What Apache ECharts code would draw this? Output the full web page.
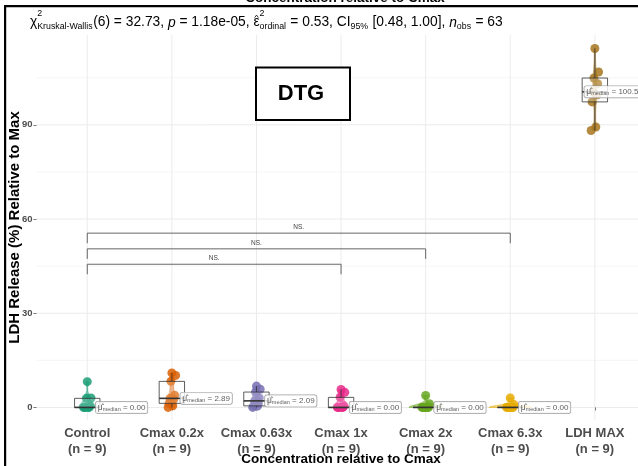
<!DOCTYPE html>
<html>
<head>
<meta charset="utf-8">
<script src="https://cdn.jsdelivr.net/npm/echarts@6/dist/echarts.min.js"></script>
<style>
  html, body { margin: 0; padding: 0; background: #fff; }
  #chart { width: 638px; height: 466px; }
</style>
</head>
<body>
<div id="chart"></div>
<script>
// Groups on the x axis and their fill colours
const categories = ['Control', 'Cmax 0.2x', 'Cmax 0.63x', 'Cmax 1x', 'Cmax 2x', 'Cmax 6.3x', 'LDH MAX'];
const colors = ['#1B9E77', '#D95F02', '#7570B3', '#E7298A', '#66A61E', '#E6AB02', '#A6761D'];

// LDH release (% of max) per replicate
const control = [0, 0, 0, 0, 0, 0.5, 2.9, 3.0, 8.2];
const cmax02  = [0.0, 0.5, 1.3, 2.6, 2.89, 3.9, 8.3, 10.2, 11.0];
const cmax063 = [0, 0.4, 0.5, 1.5, 2.09, 3.0, 4.9, 5.8, 6.8];
const cmax1   = [0, 0, 0, 0, 0, 0.5, 3.2, 4.8, 5.7];
const cmax2   = [0, 0, 0, 0, 0, 0, 0, 1.2, 3.8];
const cmax63  = [0, 0, 0, 0, 0, 0, 0, 0.9, 3.0];
const ldhMax  = [88.2, 89.3, 97.3, 99.5, 100.5, 103.1, 104.9, 106.8, 114.3];

// Y axis ticks
const yTicks = [0, 30, 60, 90];
const yMinorTicks = [15, 45, 75, 105];

// Pairwise comparisons (group indices), bracket heights and labels
const comparisons = [[0, 3], [0, 4], [0, 5]];
const bracketY = [45.6, 50.5, 55.5];
const bracketLabels = ['NS.', 'NS.', 'NS.'];

const groups = [control, cmax02, cmax063, cmax1, cmax2, cmax63, ldhMax];

// ---- statistics helpers ----
function sorted(a) { return [...a].sort((x, y) => x - y); }
function quantile(s, p) {
  const h = (s.length - 1) * p, lo = Math.floor(h);
  const hi = Math.min(lo + 1, s.length - 1);
  return s[lo] + (h - lo) * (s[hi] - s[lo]);
}
function sd(a) {
  const m = a.reduce((t, v) => t + v, 0) / a.length;
  return Math.sqrt(a.reduce((t, v) => t + (v - m) * (v - m), 0) / (a.length - 1));
}
function bwNrd0(a) {
  const s = sorted(a);
  const hi = sd(a);
  let lo = Math.min(hi, (quantile(s, 0.75) - quantile(s, 0.25)) / 1.34);
  if (!lo) lo = hi || Math.abs(s[0]) || 1;
  return 0.9 * lo * Math.pow(a.length, -0.2);
}
function boxStats(a) {
  const s = sorted(a);
  const q1 = quantile(s, 0.25), med = quantile(s, 0.5), q3 = quantile(s, 0.75);
  const iqr = q3 - q1;
  const lowW = s.filter(v => v >= q1 - 1.5 * iqr)[0];
  const inside = s.filter(v => v <= q3 + 1.5 * iqr);
  const highW = inside[inside.length - 1];
  return { q1, med, q3, lowW, highW };
}
const stats = groups.map(boxStats);

// Trimmed gaussian density per group, area-scaled across groups
const violins = groups.map(g => {
  const bw = bwNrd0(g);
  const lo = Math.min(...g), hi = Math.max(...g);
  const ys = [], ds = [];
  const n = 128;
  for (let k = 0; k <= n; k++) {
    const y = lo + (hi - lo) * k / n;
    let s = 0;
    g.forEach(x => { const z = (y - x) / bw; s += Math.exp(-0.5 * z * z); });
    ys.push(y);
    ds.push(s / (g.length * bw * Math.sqrt(2 * Math.PI)));
  }
  return { ys, ds };
});
const maxDensity = Math.max(...violins.map(v => Math.max(...v.ds)));

function withAlpha(hex, a) {
  const r = parseInt(hex.slice(1, 3), 16), g = parseInt(hex.slice(3, 5), 16), b = parseInt(hex.slice(5, 7), 16);
  return `rgba(${r},${g},${b},${a})`;
}

// small deterministic horizontal spread for overlapping points
const spread = k => (((k * 5) % 9) - 4) * 0.011;

const FONT = '"Liberation Sans", Arial, Helvetica, sans-serif';

// ---- subtitle built from measured pieces ----
const subtitlePieces = [
  { t: '\u03C7' },
  { sup: '2', sub: 'Kruskal-Wallis' },
  { t: '(6) = 32.73, ' },
  { t: 'p', it: true },
  { t: ' = 1.18e-05, ' },
  { t: '\u03B5', hat: true },
  { sup: '2', sub: 'ordinal' },
  { t: ' = 0.53, CI' },
  { sub: '95%' },
  { t: ' [0.48, 1.00], ' },
  { t: 'n', it: true },
  { sub: 'obs' },
  { t: ' = 63' }
];
const mctx = document.createElement('canvas').getContext('2d');
function measure(t, size, italic) {
  mctx.font = (italic ? 'italic ' : '') + size + 'px ' + FONT;
  return mctx.measureText(t).width;
}
function buildSubtitle(x0, baseline, size, scriptSize) {
  const els = [];
  let x = x0;
  const txt = (t, xx, base, fs, it) => ({
    type: 'text', silent: true,
    style: {
      text: t, x: xx, y: base - fs * 0.35, fill: '#000',
      font: (it ? 'italic ' : '') + fs + 'px ' + FONT,
      verticalAlign: 'middle', align: 'left'
    }
  });
  subtitlePieces.forEach(p => {
    if (p.t !== undefined) {
      const w = measure(p.t, size, p.it);
      els.push(txt(p.t, x, baseline, size, p.it));
      if (p.hat) {
        els.push({
          type: 'polyline', silent: true,
          shape: { points: [[x + w * 0.2, baseline - size * 0.72], [x + w * 0.5, baseline - size * 0.9], [x + w * 0.8, baseline - size * 0.72]] },
          style: { stroke: '#000', lineWidth: 0.8, fill: null }
        });
      }
      x += w;
    } else {
      let w = 0;
      if (p.sup) { els.push(txt(p.sup, x, baseline - 10.5, scriptSize)); w = Math.max(w, measure(p.sup, scriptSize)); }
      if (p.sub) { els.push(txt(p.sub, x, baseline + 2.3, scriptSize)); w = Math.max(w, measure(p.sub, scriptSize)); }
      x += w + 0.5;
    }
  });
  return els;
}

// category spacing is kept; the panel runs past the right edge of the page
const xMin = 0.4;
const gridLeft = 36.5;
const gridWidth = 638 - gridLeft;
const unitPx = 84.6;

const option = {
  animation: false,
  backgroundColor: '#fff',
  grid: { left: gridLeft, top: 35, width: gridWidth, height: 385 },
  xAxis: {
    type: 'value', min: xMin, max: xMin + gridWidth / unitPx,
    axisLine: { show: false },
    splitLine: { show: false },
    axisTick: { show: true, customValues: categories.map((c, i) => i + 1), length: 3, lineStyle: { color: '#555', width: 0.8 } },
    axisLabel: {
      customValues: categories.map((c, i) => i + 1),
      formatter: v => categories[Math.round(v) - 1] + '\n(n = ' + groups[Math.round(v) - 1].length + ')',
      fontFamily: FONT, fontWeight: 'bold', fontSize: 13, color: '#4D4D4D', lineHeight: 16.5, margin: 5
    }
  },
  yAxis: {
    type: 'value', min: -4, max: 118.6,
    axisLine: { show: false },
    splitLine: { show: false },
    axisTick: { show: true, customValues: yTicks, length: 3, lineStyle: { color: '#555', width: 0.8 } },
    axisLabel: { customValues: yTicks, fontFamily: FONT, fontWeight: 'bold', fontSize: 9.5, color: '#4D4D4D', margin: 4 }
  },
  graphic: [
    // frame edges
    { type: 'rect', shape: { x: 4, y: 5, width: 640, height: 2.2 }, style: { fill: '#000' }, silent: true },
    { type: 'rect', shape: { x: 4, y: 5, width: 2.2, height: 470 }, style: { fill: '#000' }, silent: true },
    // title of the panel above, mostly outside the page
    { type: 'text', silent: true, style: { text: 'Concentration relative to Cmax', x: 345, y: 5, align: 'center', verticalAlign: 'bottom', font: 'bold 13.5px ' + FONT, fill: '#000' } },
    ...buildSubtitle(30, 27.5, 13.8, 8.8),
    // drug tag
    { type: 'rect', shape: { x: 256, y: 67.5, width: 94, height: 52.5 }, style: { fill: '#fff', stroke: '#000', lineWidth: 2 }, z: 10 },
    { type: 'text', z: 11, style: { text: 'DTG', x: 301, y: 93.5, align: 'center', verticalAlign: 'middle', font: 'bold 22px ' + FONT, fill: '#000' } },
    // axis titles
    { type: 'text', silent: true, x: 15, y: 227.5, rotation: Math.PI / 2, style: { text: 'LDH Release (%) Relative to Max', x: 0, y: 0, align: 'center', verticalAlign: 'middle', font: 'bold 15px ' + FONT, fill: '#000' } },
    { type: 'text', silent: true, style: { text: 'Concentration relative to Cmax', x: 341, y: 459.5, align: 'center', verticalAlign: 'middle', font: 'bold 13.5px ' + FONT, fill: '#000' } }
  ],
  series: []
};

// panel grid lines
option.series.push({
  type: 'custom', z: 0, silent: true, clip: false,
  data: [[1, 0]],
  renderItem(params, api) {
    const cs = params.coordSys;
    const children = [];
    yMinorTicks.forEach(v => {
      const y = api.coord([1, v])[1];
      children.push({ type: 'line', shape: { x1: cs.x, y1: y, x2: cs.x + cs.width, y2: y }, style: { stroke: '#F3F3F3', lineWidth: 0.8 } });
    });
    yTicks.forEach(v => {
      const y = api.coord([1, v])[1];
      children.push({ type: 'line', shape: { x1: cs.x, y1: y, x2: cs.x + cs.width, y2: y }, style: { stroke: '#EBEBEB', lineWidth: 1 } });
    });
    categories.forEach((c, i) => {
      const x = api.coord([i + 1, 0])[0];
      children.push({ type: 'line', shape: { x1: x, y1: cs.y, x2: x, y2: cs.y + cs.height }, style: { stroke: '#EBEBEB', lineWidth: 1 } });
    });
    return { type: 'group', children };
  }
});

// significance brackets
option.series.push({
  type: 'custom', z: 2, silent: true,
  data: comparisons.map((c, k) => [k, bracketY[k]]),
  renderItem(params, api) {
    const k = api.value(0);
    const [a, b] = comparisons[k];
    const yv = bracketY[k];
    const p1 = api.coord([a + 1, yv]), p2 = api.coord([b + 1, yv]);
    const tip = api.coord([a + 1, yv - 3.2])[1];
    return {
      type: 'group', children: [
        { type: 'polyline', shape: { points: [[p1[0], tip], p1, p2, [p2[0], tip]] }, style: { stroke: '#555', lineWidth: 0.9, fill: null } },
        { type: 'text', style: { text: bracketLabels[k], x: (p1[0] + p2[0]) / 2, y: p1[1] - 6, align: 'center', verticalAlign: 'middle', font: '6.5px ' + FONT, fill: '#444' } }
      ]
    };
  }
});

// violins
option.series.push({
  type: 'custom', z: 3, silent: true, clip: false,
  data: groups.map((g, i) => [i + 1, stats[i].med]),
  renderItem(params, api) {
    const i = params.dataIndex;
    const v = violins[i];
    const left = [], right = [];
    v.ys.forEach((y, k) => {
      const hw = 0.25 * v.ds[k] / maxDensity;
      left.push(api.coord([i + 1 - hw, y]));
      right.push(api.coord([i + 1 + hw, y]));
    });
    return {
      type: 'polygon',
      shape: { points: left.concat(right.reverse()) },
      style: { fill: withAlpha(colors[i], 0.55), stroke: withAlpha(colors[i], 0.9), lineWidth: 0.6 }
    };
  }
});

// replicate points
groups.forEach((g, i) => {
  option.series.push({
    type: 'scatter', z: 4, silent: true,
    symbolSize: 9,
    itemStyle: { color: colors[i], opacity: 0.85 },
    data: g.map((v, k) => [i + 1 + spread(k), v])
  });
});

// box plots
option.series.push({
  type: 'custom', z: 5, silent: true, clip: false,
  data: groups.map((g, i) => [i + 1, stats[i].med]),
  renderItem(params, api) {
    const i = params.dataIndex;
    const s = stats[i];
    const hw = 0.15;
    const c = i + 1;
    const ptl = api.coord([c - hw, s.q3]), pbr = api.coord([c + hw, s.q1]);
    const pm1 = api.coord([c - hw, s.med]), pm2 = api.coord([c + hw, s.med]);
    const wt = api.coord([c, s.highW]), wq3 = api.coord([c, s.q3]);
    const wb = api.coord([c, s.lowW]), wq1 = api.coord([c, s.q1]);
    const stroke = '#333';
    return {
      type: 'group', children: [
        { type: 'rect', shape: { x: ptl[0], y: ptl[1], width: pbr[0] - ptl[0], height: Math.max(pbr[1] - ptl[1], 0.01) }, style: { fill: 'rgba(255,255,255,0.2)', stroke, lineWidth: 0.8 } },
        { type: 'line', shape: { x1: wt[0], y1: wt[1], x2: wq3[0], y2: wq3[1] }, style: { stroke, lineWidth: 0.8 } },
        { type: 'line', shape: { x1: wb[0], y1: wb[1], x2: wq1[0], y2: wq1[1] }, style: { stroke, lineWidth: 0.8 } },
        { type: 'line', shape: { x1: pm1[0], y1: pm1[1], x2: pm2[0], y2: pm2[1] }, style: { stroke, lineWidth: 1.6 } }
      ]
    };
  }
});

// median labels
option.series.push({
  type: 'scatter', z: 6, silent: true,
  symbolSize: 1,
  itemStyle: { color: 'rgba(0,0,0,0)' },
  data: groups.map((g, i) => ({
    value: [i + 1, stats[i].med],
    label: { offset: i === groups.length - 1 ? [-19, 0] : [0, 0] }
  })),
  label: {
    show: true, position: 'right', distance: 8,
    formatter: p => '{mu|\u03BC\u0302}{sub|median}{eq| = ' + stats[p.dataIndex].med.toFixed(2) + '}',
    backgroundColor: '#fff', borderColor: '#888', borderWidth: 0.7, borderRadius: 2,
    padding: [1.5, 2, 1, 2],
    rich: {
      mu: { fontFamily: FONT, fontSize: 8.5, color: '#333', verticalAlign: 'middle' },
      sub: { fontFamily: FONT, fontSize: 5.5, color: '#333', verticalAlign: 'bottom' },
      eq: { fontFamily: FONT, fontSize: 8, color: '#333', verticalAlign: 'middle' }
    }
  }
});

const chart = echarts.init(document.getElementById('chart'), null, { renderer: 'canvas' });
chart.setOption(option);
</script>
</body>
</html>
